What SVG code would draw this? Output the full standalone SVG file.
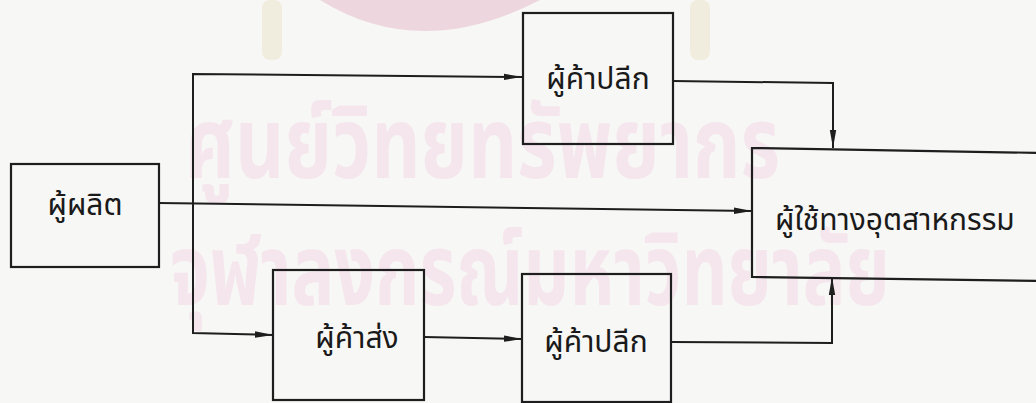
<svg xmlns="http://www.w3.org/2000/svg" width="1036" height="403" viewBox="0 0 1036 403">
<defs>
<style>
.box{fill:none;stroke:#1e1e1e;stroke-width:2.2}
.ln{fill:none;stroke:#1e1e1e;stroke-width:2}
.t{font-family:"Noto Sans Thai","Noto Sans Thai Looped","Tlwg Typo","Loma","Garuda","Norasi","DejaVu Sans",sans-serif;font-size:30px;fill:#1a1a1a}
.wm{font-family:"Noto Sans Thai","Noto Sans Thai Looped","Loma","Garuda","DejaVu Sans",sans-serif;font-size:100px;fill:#f5e6ed;font-weight:bold}
</style>
<marker id="ah" viewBox="0 0 18 8" refX="18" refY="4" markerWidth="18" markerHeight="8" markerUnits="userSpaceOnUse" orient="auto">
<path d="M0,0.8 L18,4 L0,7.2 Z" fill="#1e1e1e"/>
</marker>
</defs>
<rect width="1036" height="403" fill="#f7f7f5"/>
<g id="watermark">
<path d="M320,0 Q420,62 540,0 Z" fill="#e8bccb" opacity="0.55"/>
<rect x="262" y="0" width="20" height="60" rx="8" fill="#f1edde"/>
<rect x="690" y="0" width="20" height="60" rx="8" fill="#f1edde"/>
<text class="wm" x="185" y="178" textLength="595" lengthAdjust="spacingAndGlyphs">ศูนย์วิทยทรัพยากร</text>
<text class="wm" x="170" y="305" textLength="720" lengthAdjust="spacingAndGlyphs">จุฬาลงกรณ์มหาวิทยาลัย</text>
</g>
<g id="connectors">
<polyline class="ln" points="159,203 752,211" marker-end="url(#ah)"/>
<polyline class="ln" points="193,204 193,74 522,77" marker-end="url(#ah)"/>
<polyline class="ln" points="193,204 193,333 273,335" marker-end="url(#ah)"/>
<polyline class="ln" points="424,337 522,339" marker-end="url(#ah)"/>
<polyline class="ln" points="673,81 833,83 833,148" marker-end="url(#ah)"/>
<polyline class="ln" points="671,342 832,343 832,277" marker-end="url(#ah)"/>
</g>
<g id="producer">
<rect class="box" x="11" y="164" width="148" height="103"/>
<text class="t" x="85" y="215" text-anchor="middle">ผู้ผลิต</text>
</g>
<g id="retailer-top">
<rect class="box" x="523" y="13" width="150" height="131"/>
<text class="t" x="598" y="89" text-anchor="middle">ผู้ค้าปลีก</text>
</g>
<g id="wholesaler">
<rect class="box" x="273" y="270" width="151" height="130"/>
<text class="t" x="357" y="348" text-anchor="middle">ผู้ค้าส่ง</text>
</g>
<g id="retailer-bottom">
<rect class="box" x="522" y="274" width="149" height="128"/>
<text class="t" x="596" y="352" text-anchor="middle">ผู้ค้าปลีก</text>
</g>
<g id="industrial-user">
<path class="box" d="M1045,153 L752,148 L752,277 L1045,281"/>
<text class="t" x="775" y="230">ผู้ใช้ทางอุตสาหกรรม</text>
</g>
</svg>
